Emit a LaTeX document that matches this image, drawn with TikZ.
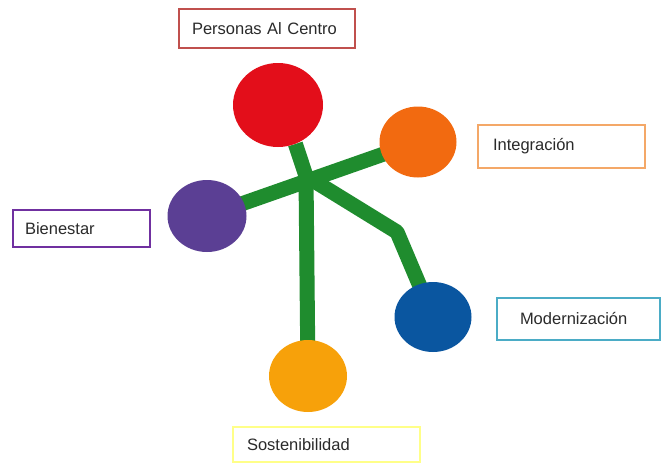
\documentclass[tikz,border=0pt]{standalone}
\usepackage{fontspec}
\setmainfont{Liberation Sans}
\usetikzlibrary{shapes.geometric,backgrounds}
\definecolor{cred}{HTML}{E30E1A}
\definecolor{corange}{HTML}{F26A10}
\definecolor{cpurple}{HTML}{5B3F94}
\definecolor{cblue}{HTML}{0A56A0}
\definecolor{cyellow}{HTML}{F7A10A}
\definecolor{cgreen}{HTML}{1F8C2E}
\definecolor{bred}{HTML}{C0504D}
\definecolor{bpurple}{HTML}{7030A0}
\definecolor{borange}{HTML}{F4A868}
\definecolor{bblue}{HTML}{4BACC6}
\definecolor{byellow}{HTML}{FFFF88}
\definecolor{tgrey}{HTML}{2A2A2A}
\tikzset{
  ball/.style={ellipse, inner sep=0pt, draw=none},
  labelbox/.style={rectangle, line width=2pt, fill=white, text=tgrey,
    font=\fontsize{16.5}{19}\selectfont, align=left, inner ysep=0pt},
  branch/.style={cgreen, line width=15pt, line join=round},
}
\begin{document}
\begin{tikzpicture}[x=1pt,y=-1pt]
\useasboundingbox (0,0) rectangle (662,464);
% circles
\node[ball, fill=cred, minimum width=90pt, minimum height=84pt] (cpc) at (278,105) {};
\node[ball, fill=corange, minimum width=77pt, minimum height=71pt] (cint) at (418,142) {};
\node[ball, fill=cpurple, minimum width=79pt, minimum height=72pt] (cbie) at (207,216) {};
\node[ball, fill=cblue, minimum width=77pt, minimum height=70pt] (cmod) at (433,317) {};
\node[ball, fill=cyellow, minimum width=78pt, minimum height=72pt] (csos) at (308,376) {};
% junction points
\coordinate (j) at (306,176);
\coordinate (bend) at (397,232);
\begin{pgfonlayer}{background}
\draw[branch] (cpc.-66) -- (j) -- (csos.center);
\draw[branch] (cbie.center) -- (cint.center);
\draw[branch] (j) -- (bend) -- (cmod.center);
\end{pgfonlayer}
% label boxes
\node[labelbox, draw=bred, minimum width=176pt, minimum height=39pt, text width=150pt, inner xsep=13pt] (lpc) at (267,28.5) {Personas Al Centro};
\node[labelbox, draw=bpurple, minimum width=137pt, minimum height=37pt, text width=113pt, inner xsep=12pt] (lbie) at (81.5,228.5) {Bienestar};
\node[labelbox, draw=borange, minimum width=167pt, minimum height=43pt, text width=137pt, inner xsep=15pt] (lint) at (561.5,146.5) {Integración};
\node[labelbox, draw=bblue, minimum width=163pt, minimum height=42pt, text width=117pt, inner xsep=23pt] (lmod) at (578.5,319) {Modernización};
\node[labelbox, draw=byellow, minimum width=187pt, minimum height=35pt, text width=159pt, inner xsep=14pt] (lsos) at (326.5,444.5) {Sostenibilidad};
\end{tikzpicture}
\end{document}
